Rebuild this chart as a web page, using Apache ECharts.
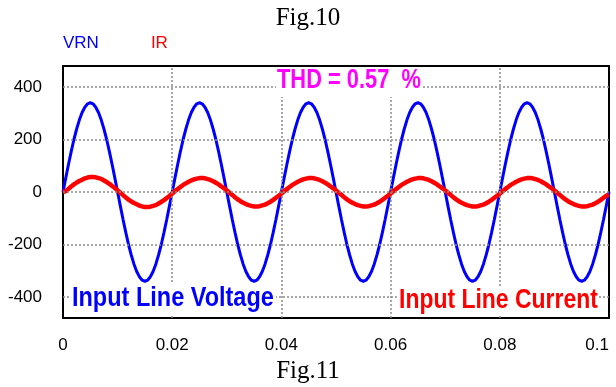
<!DOCTYPE html>
<html>
<head>
<meta charset="utf-8">
<script src="https://cdn.jsdelivr.net/npm/echarts@6/dist/echarts.min.js"></script>
<style>
  html, body { margin: 0; padding: 0; background: #fff; }
  #container { width: 616px; height: 387px; }
</style>
</head>
<body>
<div id="container"></div>
<script>
// time axis (s), 0.5 ms steps
var times = [
  0,0.0005,0.001,0.0015,0.002,0.0025,0.003,0.0035,0.004,0.0045,0.005,0.0055,0.006,0.0065,0.007,0.0075,0.008,0.0085,0.009,0.0095,
  0.01,0.0105,0.011,0.0115,0.012,0.0125,0.013,0.0135,0.014,0.0145,0.015,0.0155,0.016,0.0165,0.017,0.0175,0.018,0.0185,0.019,0.0195,
  0.02,0.0205,0.021,0.0215,0.022,0.0225,0.023,0.0235,0.024,0.0245,0.025,0.0255,0.026,0.0265,0.027,0.0275,0.028,0.0285,0.029,0.0295,
  0.03,0.0305,0.031,0.0315,0.032,0.0325,0.033,0.0335,0.034,0.0345,0.035,0.0355,0.036,0.0365,0.037,0.0375,0.038,0.0385,0.039,0.0395,
  0.04,0.0405,0.041,0.0415,0.042,0.0425,0.043,0.0435,0.044,0.0445,0.045,0.0455,0.046,0.0465,0.047,0.0475,0.048,0.0485,0.049,0.0495,
  0.05,0.0505,0.051,0.0515,0.052,0.0525,0.053,0.0535,0.054,0.0545,0.055,0.0555,0.056,0.0565,0.057,0.0575,0.058,0.0585,0.059,0.0595,
  0.06,0.0605,0.061,0.0615,0.062,0.0625,0.063,0.0635,0.064,0.0645,0.065,0.0655,0.066,0.0665,0.067,0.0675,0.068,0.0685,0.069,0.0695,
  0.07,0.0705,0.071,0.0715,0.072,0.0725,0.073,0.0735,0.074,0.0745,0.075,0.0755,0.076,0.0765,0.077,0.0775,0.078,0.0785,0.079,0.0795,
  0.08,0.0805,0.081,0.0815,0.082,0.0825,0.083,0.0835,0.084,0.0845,0.085,0.0855,0.086,0.0865,0.087,0.0875,0.088,0.0885,0.089,0.0895,
  0.09,0.0905,0.091,0.0915,0.092,0.0925,0.093,0.0935,0.094,0.0945,0.095,0.0955,0.096,0.0965,0.097,0.0975,0.098,0.0985,0.099,0.0995,
  0.1
];

// input line voltage VRN
var vrn = [
  0,53,105,154,200,240,275,303,323,336,340,336,323,303,275,240,200,154,105,53,
  0,-53,-105,-154,-200,-240,-275,-303,-323,-336,-340,-336,-323,-303,-275,-240,-200,-154,-105,-53,
  0,53,105,154,200,240,275,303,323,336,340,336,323,303,275,240,200,154,105,53,
  0,-53,-105,-154,-200,-240,-275,-303,-323,-336,-340,-336,-323,-303,-275,-240,-200,-154,-105,-53,
  0,53,105,154,200,240,275,303,323,336,340,336,323,303,275,240,200,154,105,53,
  0,-53,-105,-154,-200,-240,-275,-303,-323,-336,-340,-336,-323,-303,-275,-240,-200,-154,-105,-53,
  0,53,105,154,200,240,275,303,323,336,340,336,323,303,275,240,200,154,105,53,
  0,-53,-105,-154,-200,-240,-275,-303,-323,-336,-340,-336,-323,-303,-275,-240,-200,-154,-105,-53,
  0,53,105,154,200,240,275,303,323,336,340,336,323,303,275,240,200,154,105,53,
  0,-53,-105,-154,-200,-240,-275,-303,-323,-336,-340,-336,-323,-303,-275,-240,-200,-154,-105,-53,
  0
];

// input line current IR
var ir = [
  0,3,12,21,29,36,42,47,52,55,57,57,56,53,50,44,38,31,23,15,
  6,-3,-12,-21,-29,-36,-42,-47,-52,-55,-57,-57,-56,-53,-50,-44,-38,-31,-23,-15,
  -6,3,11,19,27,33,39,44,48,51,53,53,52,49,46,41,35,29,21,14,
  6,-3,-11,-20,-28,-35,-41,-46,-50,-53,-55,-55,-54,-51,-48,-43,-37,-30,-22,-14,
  -6,3,11,19,27,33,39,44,48,51,53,53,52,49,46,41,35,29,21,14,
  6,-3,-11,-20,-28,-35,-41,-46,-50,-53,-55,-55,-54,-51,-48,-43,-37,-30,-22,-14,
  -6,3,11,19,27,33,39,44,48,51,53,53,52,49,46,41,35,29,21,14,
  6,-3,-11,-20,-28,-35,-41,-46,-50,-53,-55,-55,-54,-51,-48,-43,-37,-30,-22,-14,
  -6,3,11,19,27,33,39,44,48,51,53,53,52,49,46,41,35,29,21,14,
  6,-3,-11,-20,-28,-35,-41,-46,-50,-53,-55,-55,-54,-51,-48,-43,-37,-30,-22,-14,
  -10
];

var yTicks = [400, 200, 0, -200, -400];
var xTicks = [0.02, 0.04, 0.06, 0.08];

function pairs(xs, ys) {
  var out = [];
  for (var i = 0; i < xs.length; i++) out.push([xs[i], ys[i]]);
  return out;
}

var gridLines = [];
yTicks.forEach(function (v) { gridLines.push({ yAxis: v }); });
xTicks.forEach(function (v) { gridLines.push({ xAxis: v }); });

var labelFont = 'Liberation Sans, Arial, sans-serif';
var boldFont = 'bold 27px "Liberation Sans", Arial, sans-serif';
var serifFont = '25px "Liberation Serif", "Times New Roman", serif';

var dom = document.getElementById('container');
var myChart = echarts.init(dom, null, { renderer: 'canvas' });

var option = {
  animation: false,
  backgroundColor: '#fff',
  grid: {
    left: 63, right: 7, top: 66, bottom: 69,
    show: true, borderColor: '#000', borderWidth: 2
  },
  legend: {
    left: 53, top: 30,
    icon: 'none',
    itemWidth: 0,
    itemGap: 47,
    textStyle: { fontFamily: labelFont, fontSize: 17 },
    data: [
      { name: 'VRN', textStyle: { color: '#0000ff' } },
      { name: 'IR', textStyle: { color: '#ff0000' } }
    ]
  },
  xAxis: {
    type: 'value',
    min: 0, max: 0.1, interval: 0.02,
    axisLine: { show: false },
    axisTick: { show: false },
    splitLine: { show: false },
    axisLabel: {
      color: '#000', fontFamily: labelFont, fontSize: 17, margin: 19,
      alignMaxLabel: 'right'
    }
  },
  yAxis: {
    type: 'value',
    min: -480, max: 480, interval: 40,
    axisLine: { show: false },
    axisTick: { show: false },
    splitLine: { show: false },
    axisLabel: {
      color: '#000', fontFamily: labelFont, fontSize: 17, margin: 21,
      formatter: function (v) { return v % 200 === 0 ? String(v) : ''; }
    }
  },
  series: [
    {
      name: 'grid', type: 'line', data: [], z: 1, silent: true,
      markLine: {
        silent: true, symbol: 'none', animation: false,
        label: { show: false },
        lineStyle: { color: '#8a8a8a', type: [2, 2], width: 1.5 },
        data: gridLines
      }
    },
    {
      name: 'IR', type: 'line', data: pairs(times, ir), z: 3,
      showSymbol: false, color: '#ff0000',
      lineStyle: { color: '#ff0000', width: 4.5 }
    },
    {
      name: 'VRN', type: 'line', data: pairs(times, vrn), z: 2,
      showSymbol: false, color: '#0000ff',
      lineStyle: { color: '#0000ff', width: 3 }
    }
  ],
  graphic: [
    {
      type: 'text', left: 'center', top: 6, z: 10,
      style: { text: 'Fig.10', font: serifFont, fill: '#000' }
    },
    {
      type: 'text', left: 'center', top: 359, z: 10,
      style: { text: 'Fig.11', font: serifFont, fill: '#000' }
    },
    {
      type: 'rect', left: 276, top: 67, z: 10,
      shape: { width: 146, height: 30 },
      style: { fill: '#fff' }
    },
    {
      type: 'text', x: 277, y: 67, scaleX: 0.81, z: 11,
      style: { text: 'THD = 0.57  %', font: boldFont, fill: '#ff00ff', verticalAlign: 'top' }
    },
    {
      type: 'rect', left: 70, top: 284, z: 10,
      shape: { width: 206, height: 32 },
      style: { fill: '#fff' }
    },
    {
      type: 'text', x: 72, y: 285, scaleX: 0.87, z: 11,
      style: { text: 'Input Line Voltage', font: boldFont, fill: '#0000ff', verticalAlign: 'top' }
    },
    {
      type: 'rect', left: 397, top: 286, z: 10,
      shape: { width: 202, height: 30 },
      style: { fill: '#fff' }
    },
    {
      type: 'text', x: 399, y: 287, scaleX: 0.85, z: 11,
      style: { text: 'Input Line Current', font: boldFont, fill: '#ff0000', verticalAlign: 'top' }
    }
  ]
};

myChart.setOption(option);
window.addEventListener('resize', myChart.resize);
</script>
</body>
</html>
